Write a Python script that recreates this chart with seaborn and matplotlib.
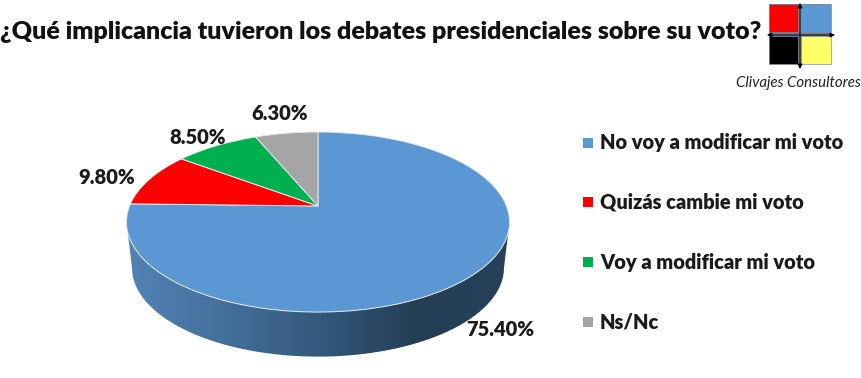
import numpy as np
import seaborn as sns
import matplotlib.pyplot as plt
from matplotlib.patches import PathPatch, Rectangle
from matplotlib.path import Path
from matplotlib.transforms import Transform
from matplotlib.colors import LinearSegmentedColormap

categories = ["No voy a modificar mi voto", "Quizás cambie mi voto", "Voy a modificar mi voto", "Ns/Nc"]
values = [75.4, 9.8, 8.5, 6.3]
value_labels = ["75.40%", "9.80%", "8.50%", "6.30%"]
colors = ["#5B97D3", "#FF0000", "#00B050", "#A5A5A5"]
title = "¿Qué implicancia tuvieron los debates presidenciales sobre su voto?"
logo_text = "Clivajes Consultores"

sns.set_theme(style="white")
plt.rcParams["font.family"] = ["Lato", "DejaVu Sans"]


# pie is tilted, so the centre is not the middle of the ellipse
class Tilt(Transform):
    input_dims = output_dims = 2

    def __init__(self, cx=318, cy=206, sx=188.5, sy=87.2, a=0.178):
        super().__init__()
        self.cx, self.cy, self.sx, self.sy, self.a = cx, cy, sx, sy, a

    def transform_non_affine(self, xy):
        xy = np.asarray(xy)
        w = 1 + self.a * xy[:, 1]
        return np.column_stack([self.cx + self.sx * xy[:, 0] / w, self.cy - self.sy * xy[:, 1] / w])


fig = plt.figure(figsize=(8.62, 3.78), dpi=100)
ax = fig.add_axes([0, 0, 1, 1])

# side of the pie, between the widest points of both rims
t = np.linspace(np.pi + 0.18, 2 * np.pi - 0.18, 200)
top_rim = Tilt().transform_non_affine(np.column_stack([np.cos(t), np.sin(t)]))
bottom_rim = Tilt(cy=252, sx=183, sy=86).transform_non_affine(np.column_stack([np.cos(t), np.sin(t)]))
side = Path(np.vstack([top_rim, bottom_rim[::-1], top_rim[:1]]))
side_patch = PathPatch(side, fc="none", ec="none", transform=ax.transData)
ax.add_patch(side_patch)
side_cmap = LinearSegmentedColormap.from_list("side", ["#5283B5", "#44709B", "#34597C", "#243E56", "#27415A"])
grad = ax.imshow(np.linspace(0, 1, 256)[None, :], cmap=side_cmap, extent=(126, 511, 360, 200), aspect="auto")
grad.set_clip_path(side_patch)

wedges, _ = ax.pie(values, colors=colors, startangle=90, counterclock=False,
                   wedgeprops={"edgecolor": "#E4EAF0", "linewidth": 0.7})
for w in wedges:
    w.set_transform(w.get_patch_transform() + Tilt() + ax.transData)
    w.get_transform = lambda tr=w.get_transform(): tr

ax.set_xlim(0, 862)
ax.set_ylim(378, 0)
ax.set_aspect("auto")
ax.axis("off")

ax.text(0, 32, title, fontsize=18, fontweight="heavy", va="center", color="#111111")

# value labels
label_pos = [(500, 329), (107, 178), (198, 137), (280, 113)]
for (x, y), s in zip(label_pos, value_labels):
    ax.text(x, y, s, fontsize=14.5, fontweight="heavy", ha="center", va="center", color="#1A1A1A")

# legend
legend_y = [143, 202, 262, 322]
sns.scatterplot(x=[588] * 4, y=legend_y, hue=categories, palette=colors, marker="s", s=52,
                linewidth=0, legend=False, ax=ax)
for y, s in zip(legend_y, categories):
    ax.text(600, y, s, fontsize=14.4, fontweight="heavy", va="center", color="#1A1A1A")

# logo
ax.add_patch(Rectangle((769, 4), 62, 60, fc="#6D7D8C", ec="none"))
for x, y, c in [(769, 4, "#FF0000"), (801, 4, "#5B97D3"), (769, 36, "#000000"), (801, 36, "#FFFF66")]:
    ax.add_patch(Rectangle((x, y), 30 if x > 790 else 29, 28, fc=c, ec="#7F8FA0", lw=0.5))
arrow = dict(arrowstyle="<|-|>", color="black", lw=0.7, mutation_scale=7, shrinkA=0, shrinkB=0)
ax.annotate("", xy=(800, 3), xytext=(800, 69), arrowprops=arrow)
ax.annotate("", xy=(835, 35), xytext=(767, 35), arrowprops=arrow)
ax.text(861, 83, logo_text, fontsize=10.8, style="italic", ha="right", va="center", color="#222222")

fig.savefig("out.png", dpi=100)
